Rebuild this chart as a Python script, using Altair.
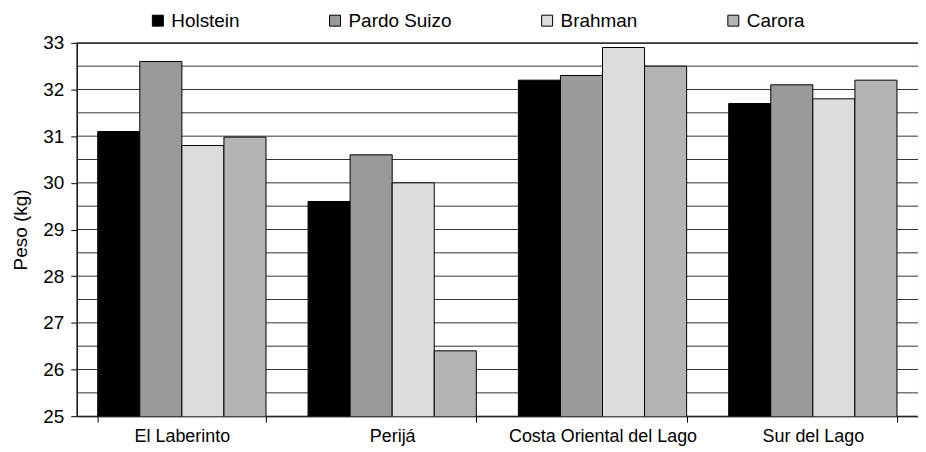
import altair as alt
import pandas as pd

regions = ["El Laberinto", "Perijá", "Costa Oriental del Lago", "Sur del Lago"]
breeds = ["Holstein", "Pardo Suizo", "Brahman", "Carora"]
holstein = [31.1, 29.6, 32.2, 31.7]
pardo = [32.6, 30.6, 32.3, 32.1]
brahman = [30.8, 30.0, 32.9, 31.8]
carora = [30.98, 26.4, 32.5, 32.2]
colors = ["#000000", "#9a9a9a", "#dcdcdc", "#b4b4b4"]
grid_values = [25 + 0.5 * i for i in range(17)]

series = [holstein, pardo, brahman, carora]
rows = []
for b, vals in zip(breeds, series):
    for r, v in zip(regions, vals):
        rows.append({"Region": r, "Raza": b, "Peso": v})
df = pd.DataFrame(rows)

FONT = "Liberation Sans"
yscale = alt.Scale(domain=[25, 33], nice=False, zero=False)

chart = alt.Chart(df).mark_bar(stroke="black", strokeWidth=1, clip=True).encode(
    x=alt.X("Region:N", sort=regions, title=None,
            scale=alt.Scale(paddingInner=0.2, paddingOuter=0.1),
            axis=alt.Axis(labelAngle=0, tickBand="extent", tickSize=6,
                          labelPadding=5, labelFontSize=18, labelFont=FONT,
                          labelLimit=400,
                          labelColor="black", domainColor="black", tickColor="black")),
    xOffset=alt.XOffset("Raza:N", sort=breeds, scale=alt.Scale(paddingInner=0, paddingOuter=0)),
    y=alt.Y("Peso:Q", title="Peso (kg)", scale=yscale,
            axis=alt.Axis(values=[25, 26, 27, 28, 29, 30, 31, 32, 33], tickSize=6,
                          labelPadding=7,
                          labelFontSize=19, labelFont=FONT, labelColor="black",
                          titleFont=FONT, titleFontSize=19, titleFontWeight="normal",
                          titleColor="black", titlePadding=12,
                          grid=False, domainColor="black", tickColor="black")),
    color=alt.Color("Raza:N", sort=breeds,
                    scale=alt.Scale(domain=breeds, range=colors),
                    legend=alt.Legend(title=None, orient="none", direction="horizontal",
                                      legendX=72, legendY=-32, symbolType="square",
                                      symbolSize=121, symbolStrokeColor="black",
                                      symbolStrokeWidth=1, labelFont=FONT,
                                      labelFontSize=19, labelColor="black",
                                      columnPadding=86, symbolOffset=0, labelOffset=4)),
)

grid = alt.Chart(pd.DataFrame({"g": grid_values})).mark_rule(
    color="#333333", strokeWidth=1
).encode(y=alt.Y("g:Q", scale=yscale))

final = alt.layer(grid, chart).properties(
    width=845, height=375,
    autosize=alt.AutoSizeParams(type="none"),
    padding={"left": 69, "top": 34, "right": 0, "bottom": 34},
).configure_view(stroke="black", strokeWidth=1)

final.save("out.html", embed_options={"renderer": "svg", "actions": False})
